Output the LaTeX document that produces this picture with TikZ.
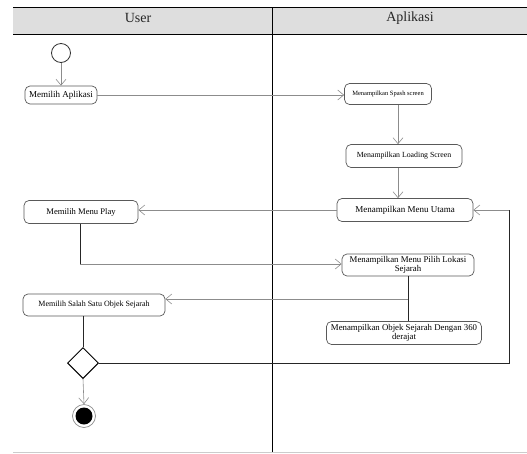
\documentclass[tikz,border=0pt]{standalone}
\usepackage{fontspec}
\setmainfont{Liberation Serif}
\usetikzlibrary{arrows.meta,shapes.geometric}
\begin{document}
\begin{tikzpicture}[x=1pt,y=-1pt,
  actbox/.style={draw=black!65, line width=0.7pt, rounded corners=5pt, fill=white,
    inner sep=1pt, align=center},
  arr/.style={draw=black!45, line width=0.6pt, -{Straight Barb[length=6pt,width=10pt,line width=0.6pt]}},
  lin/.style={draw=black!45, line width=0.6pt},
  dark/.style={draw=black!85, line width=0.9pt},
  lane/.style={draw=black, line width=0.9pt},
  hdr/.style={font=\fontsize{14}{16}\selectfont, text=black!85}
]
\useasboundingbox (0,0) rectangle (527,453);
% swimlanes
\fill[black!13] (13,7) rectangle (527,34);
\draw[lane] (13,7) -- (527,7);
\draw[lane] (13,34) -- (527,34);
\draw[lane] (272,7) -- (272,452);
\draw[draw=black!20, line width=1pt] (13,452) -- (527,452);
\node[hdr] (hu) at (138,18) {User};
\node[hdr] (ha) at (410,18) {Aplikasi};
% nodes
\node[draw=black!80, line width=0.8pt, circle, minimum size=19pt, inner sep=0pt] (start) at (61,53) {};
\node[actbox, minimum width=72pt, minimum height=18pt, font=\fontsize{9}{10}\selectfont] (a1) at (61,95) {Memilih Aplikasi};
\node[actbox, minimum width=87pt, minimum height=21pt, font=\fontsize{6.5}{7.5}\selectfont] (b1) at (388,94) {Menampilkan Spash screen};
\node[actbox, minimum width=116pt, minimum height=23pt, font=\fontsize{7.8}{9}\selectfont] (b2) at (404,156) {Menampilkan Loading Screen};
\node[actbox, minimum width=136pt, minimum height=23pt, font=\fontsize{9}{10}\selectfont] (b3) at (405,210) {Menampilkan Menu Utama};
\node[actbox, minimum width=114pt, minimum height=23pt, font=\fontsize{8.6}{10}\selectfont] (a2) at (81,212) {Memilih Menu Play};
\node[actbox, minimum width=132pt, minimum height=22pt, font=\fontsize{8.8}{9}\selectfont] (b4) at (408,265) {Menampilkan Menu Pilih Lokasi\\Sejarah};
\node[actbox, minimum width=142pt, minimum height=22pt, font=\fontsize{8}{9}\selectfont] (a3) at (94,305) {Memilih Salah Satu Objek Sejarah};
\node[actbox, minimum width=155pt, minimum height=23pt, font=\fontsize{8.8}{9}\selectfont] (b5) at (404,333) {Menampilkan Objek Sejarah Dengan 360\\derajat};
\node[draw=black, line width=1pt, diamond, minimum width=31pt, minimum height=31pt, inner sep=0pt, fill=white] (dec) at (83,363) {};
\node[draw=black!45, line width=0.7pt, circle, minimum size=23pt, inner sep=0pt] (endo) at (84,416) {};
\node[fill=black, circle, minimum size=17pt, inner sep=0pt] (endi) at (84,416) {};
% helper coordinates
\coordinate (x1) at (398,0);
\coordinate (j1) at (408,299);
\coordinate (j2) at (80,264);
\coordinate (c1) at (509,363);
\coordinate (c2) at (509,210);
% connectors
\draw[arr] (start) -- (a1);
\draw[arr] (a1.east) -- (a1.east -| b1.west);
\draw[arr] (b1.south -| x1) -- (b2.north -| x1);
\draw[arr] (b2.south -| x1) -- (b3.north -| x1);
\draw[arr] (b3.west) -- (b3.west -| a2.east);
\draw[dark] (a2.south -| j2) -- (j2);
\draw[arr] (j2) -- (j2 -| b4.west);
\draw[dark] (b4.south -| j1) -- (j1);
\draw[arr] (j1) -- (j1 -| a3.east);
\draw[dark] (j1) -- (b5.north -| j1);
\draw[dark] (a3.south -| dec.north) -- (dec.north);
\draw[dark] (dec.east) -- (c1) -- (c2);
\draw[arr] (c2) -- (b3.east);
\draw[arr] (dec.south) -- (endo.north);
\end{tikzpicture}
\end{document}
